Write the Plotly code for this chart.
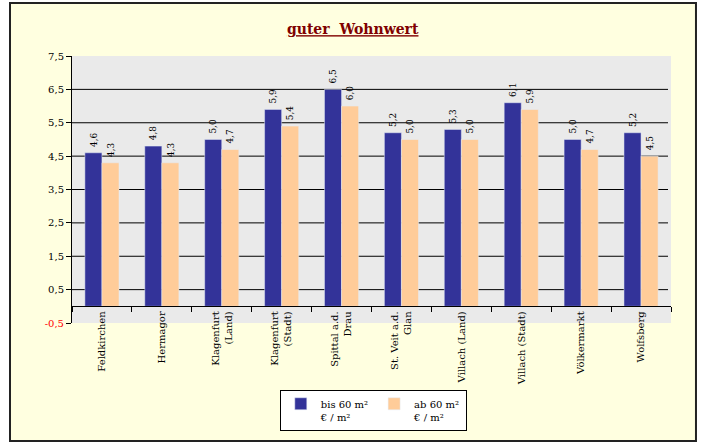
import plotly.graph_objects as go

CATEGORIES = ["Feldkirchen", "Hermagor", "Klagenfurt<br>(Land)", "Klagenfurt<br>(Stadt)",
              "Spittal a.d.<br>Drau", "St. Veit a.d.<br>Glan", "Villach (Land)",
              "Villach (Stadt)", "Völkermarkt", "Wolfsberg"]
BIS_60 = [4.6, 4.8, 5.0, 5.9, 6.5, 5.2, 5.3, 6.1, 5.0, 5.2]
AB_60 = [4.3, 4.3, 4.7, 5.4, 6.0, 5.0, 5.0, 5.9, 4.7, 4.5]
Y_TICKS = [-0.5, 0.5, 1.5, 2.5, 3.5, 4.5, 5.5, 6.5, 7.5]
GRID_LINES = [0.5, 1.5, 2.5, 3.5, 4.5, 5.5, 6.5]

FONT = "DejaVu Serif"
BLUE = "#333399"
PEACH = "#FFCC99"

ticktext = []
for v in Y_TICKS:
    s = f"{v:.1f}".replace(".", ",")
    ticktext.append(f"<span style='color:red'>{s}</span>" if v < 0 else s)

# non-breaking space pushes the rotated value labels a bit off the bar top
label = "\u00a0%{y:.1f}"
fig = go.Figure()
fig.add_trace(go.Bar(x=CATEGORIES, y=BIS_60, name="bis 60 m²<br>€ / m²", marker_color=BLUE,
                     texttemplate=label, textposition="outside", textangle=-90,
                     textfont=dict(family=FONT, size=10, color="black"), cliponaxis=False))
fig.add_trace(go.Bar(x=CATEGORIES, y=AB_60, name="ab 60 m²<br>€ / m²", marker_color=PEACH,
                     texttemplate=label, textposition="outside", textangle=-90,
                     textfont=dict(family=FONT, size=10, color="black"), cliponaxis=False))

# yellow frame, then the grey plot area on top of it
shapes = [dict(type="rect", xref="paper", yref="paper", x0=-0.1035, x1=1.0417, y0=-0.442, y1=1.1985,
               fillcolor="#FFFFE0", line=dict(color="#222222", width=2), layer="below"),
          dict(type="rect", xref="paper", yref="paper", x0=0, x1=1, y0=0, y1=1,
               fillcolor="#EAEAEA", line=dict(width=0), layer="below")]
for g in GRID_LINES:
    shapes.append(dict(type="line", xref="paper", yref="y", x0=0, x1=0.995, y0=g, y1=g,
                       line=dict(color="black", width=1), layer="below"))

fig.update_layout(
    width=704, height=443,
    margin=dict(l=72, r=33, t=56, b=120),
    paper_bgcolor="white", plot_bgcolor="rgba(0,0,0,0)",
    separators=",.",
    font=dict(family=FONT, size=10, color="black"),
    title=dict(text="<b><u>guter  Wohnwert</u></b>", x=0.501, xref="container", xanchor="center",
               y=0.945, yref="container", font=dict(family=FONT, size=14, color="#800000")),
    barmode="group", bargap=0.43, bargroupgap=0,
    showlegend=True,
    legend=dict(orientation="h", x=0.503, xanchor="center", y=-0.25, yanchor="top",
                bgcolor="white", bordercolor="black", borderwidth=1, valign="top",
                font=dict(family=FONT, size=10), itemwidth=30, tracegroupgap=0),
    shapes=shapes,
    xaxis=dict(type="category", anchor="free", position=0.0625, showline=True, linecolor="black",
               linewidth=1, ticks="outside", ticklen=5, tickcolor="black", tickson="boundaries",
               tickangle=-90, showgrid=False, tickfont=dict(family=FONT, size=10)),
    yaxis=dict(range=[-0.5, 7.5], tickvals=Y_TICKS, ticktext=ticktext, showgrid=False,
               zeroline=False, showline=True, linecolor="black", linewidth=1, ticks="outside",
               ticklen=5, tickcolor="black", tickfont=dict(family=FONT, size=10)),
)

fig.write_html("out.html", config={"displayModeBar": False},
               post_script="document.body.style.margin='0';")
